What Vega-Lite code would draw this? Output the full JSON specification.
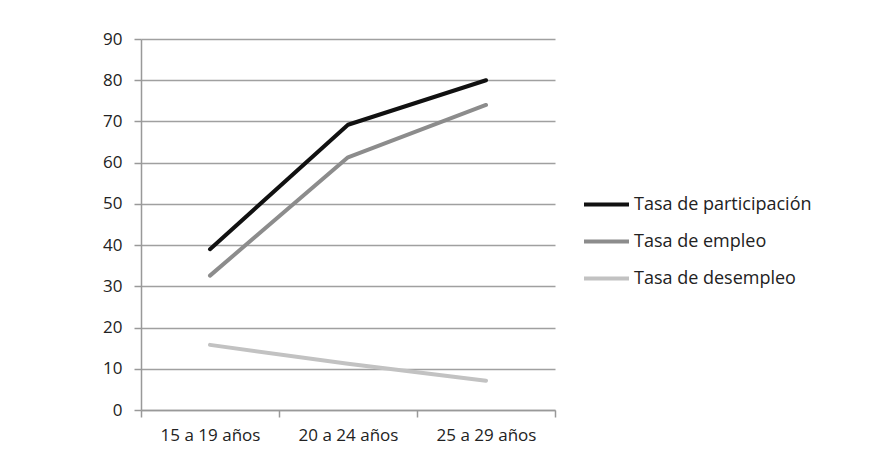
{
  "$schema": "https://vega.github.io/schema/vega-lite/v6.json",
  "width": 414,
  "height": 371,
  "autosize": {"type": "none"},
  "padding": {"left": 141, "top": 39, "right": 333, "bottom": 57},
  "background": "white",
  "config": {
    "view": {"stroke": null},
    "font": "Open Sans"
  },
  "data": {
    "values": [
      {"edad": "15 a 19 años", "serie": "Tasa de participación", "valor": 39.0},
      {"edad": "20 a 24 años", "serie": "Tasa de participación", "valor": 69.2},
      {"edad": "25 a 29 años", "serie": "Tasa de participación", "valor": 80.0},
      {"edad": "15 a 19 años", "serie": "Tasa de empleo", "valor": 32.6},
      {"edad": "20 a 24 años", "serie": "Tasa de empleo", "valor": 61.3},
      {"edad": "25 a 29 años", "serie": "Tasa de empleo", "valor": 74.0},
      {"edad": "15 a 19 años", "serie": "Tasa de desempleo", "valor": 15.8},
      {"edad": "20 a 24 años", "serie": "Tasa de desempleo", "valor": 11.2},
      {"edad": "25 a 29 años", "serie": "Tasa de desempleo", "valor": 7.1}
    ]
  },
  "mark": {"type": "line", "strokeWidth": 4, "strokeCap": "round", "strokeJoin": "round"},
  "encoding": {
    "x": {
      "field": "edad",
      "type": "nominal",
      "bandPosition": 0.5,
      "scale": {"type": "band", "paddingInner": 0, "paddingOuter": 0},
      "axis": {
        "title": null,
        "labelAngle": 0,
        "tickBand": "extent",
        "domainColor": "#999999",
        "domainWidth": 1.5,
        "tickColor": "#999999",
        "tickWidth": 1.5,
        "tickSize": 7,
        "labelPadding": 10,
        "labelFontSize": 17,
        "labelColor": "#222222",
        "grid": false
      }
    },
    "y": {
      "field": "valor",
      "type": "quantitative",
      "scale": {"domain": [0, 90], "nice": false},
      "axis": {
        "title": null,
        "values": [0, 10, 20, 30, 40, 50, 60, 70, 80, 90],
        "domainColor": "#999999",
        "domainWidth": 1.5,
        "tickColor": "#999999",
        "tickWidth": 1.5,
        "tickSize": 7,
        "labelPadding": 12,
        "labelFontSize": 17,
        "labelColor": "#222222",
        "gridColor": "#a0a0a0",
        "gridWidth": 1.5
      }
    },
    "color": {
      "field": "serie",
      "type": "nominal",
      "scale": {
        "domain": ["Tasa de participación", "Tasa de empleo", "Tasa de desempleo"],
        "range": ["#111111", "#8c8c8c", "#c2c2c2"]
      },
      "legend": {
        "title": null,
        "orient": "none",
        "legendX": 441,
        "legendY": 141,
        "symbolType": "stroke",
        "symbolSize": 2025,
        "symbolStrokeWidth": 4,
        "labelFontSize": 18,
        "labelLimit": 0,
        "labelColor": "#222222",
        "labelOffset": 3,
        "rowPadding": 3
      }
    }
  }
}
